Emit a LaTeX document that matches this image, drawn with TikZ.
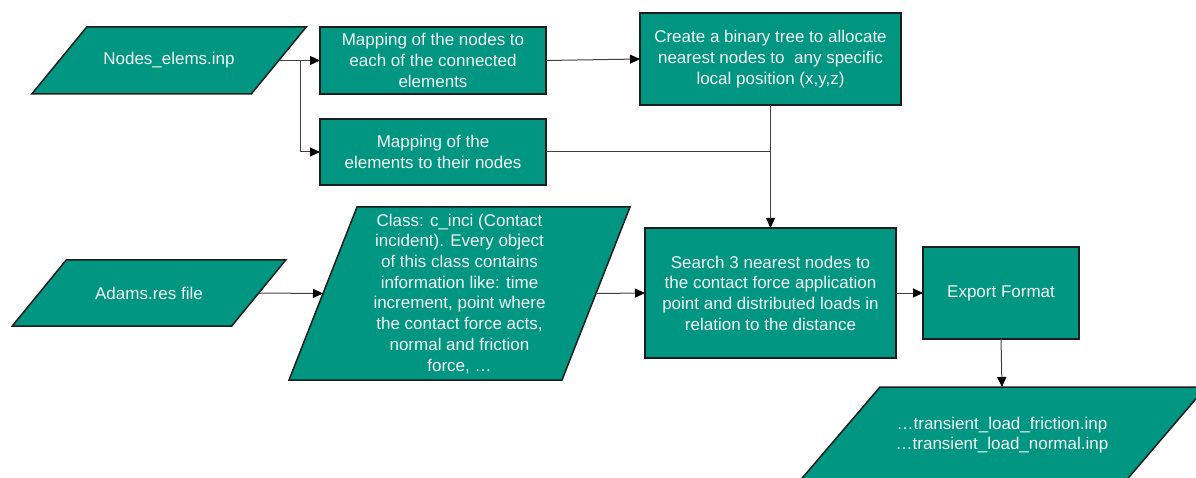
\documentclass[tikz,border=0pt]{standalone}
\usepackage{fontspec}
\setmainfont{Liberation Sans}
\usetikzlibrary{arrows.meta,backgrounds,calc}
\definecolor{tealfill}{RGB}{0,150,130}
\definecolor{edgecol}{RGB}{30,30,30}
\definecolor{wirecol}{RGB}{64,64,64}
\definecolor{txtcol}{RGB}{245,245,245}
\tikzset{
  lbl/.style={align=center, text=txtcol, font=\fontsize{17}{20.7}\selectfont, inner sep=0pt, outer sep=0pt},
  procbox/.style={lbl, draw=edgecol, line width=1.5pt, fill=tealfill},
  ioshape/.style={draw=edgecol, line width=1.5pt, fill=tealfill, line join=miter},
  wire/.style={draw=wirecol, line width=1pt},
  conn/.style={wire, -{Triangle[length=10pt,width=9pt,color=black]}},
}
\newcommand\ioframe[2]{%
  \begin{pgfonlayer}{background}
    \draw[ioshape] ([xshift=#2/2]#1.north west) -- ([xshift=#2/2]#1.north east)
      -- ([xshift=-#2/2]#1.south east) -- ([xshift=-#2/2]#1.south west) -- cycle;
  \end{pgfonlayer}}
\begin{document}
\begin{tikzpicture}[x=1pt,y=-1pt]
\useasboundingbox (0,0) rectangle (1196,478);
\clip (0,0) rectangle (1196,478);

% input / output shapes (parallelograms)
\node[lbl, minimum width=219.5pt, minimum height=67pt] (ne) at (169,60.5) {Nodes\_elems.inp};
\ioframe{ne}{55}
\node[lbl, minimum width=219.5pt, minimum height=66pt] (adams) at (149,293) {Adams.res file};
\ioframe{adams}{54}
\node[lbl, minimum width=273pt, minimum height=173pt] (cls) at (459.5,293.5) {Class: c\_inci (Contact\\incident). Every object\\of this class contains\\information like: time\\increment, point where\\the contact force acts,\\normal and friction\\force, …};
\ioframe{cls}{68}
\node[lbl, minimum width=326pt, minimum height=96pt] (out) at (1002,435) {…transient\_load\_friction.inp\\…transient\_load\_normal.inp};
\ioframe{out}{82}

% process boxes
\node[procbox, minimum width=226pt, minimum height=67pt] (m1) at (433,60.5) {Mapping of the nodes to\\each of the connected\\elements};
\node[procbox, minimum width=226pt, minimum height=66pt] (m2) at (433,152) {Mapping of the\\elements to their nodes};
\node[procbox, minimum width=261pt, minimum height=92pt] (tree) at (770.5,59) {Create a binary tree to allocate\\nearest nodes to\ \ any specific\\local position (x,y,z)};
\node[procbox, minimum width=251pt, minimum height=130pt] (search) at (770.5,293) {Search 3 nearest nodes to\\the contact force application\\point and distributed loads in\\relation to the distance};
\node[procbox, minimum width=156pt, minimum height=92pt] (export) at (1001,293) {Export Format};

% connectors
\coordinate (br) at (300,60.5);
\draw[conn] (ne.east) -- (m1.west);
\draw[wire] (br) -- (br |- m2.west);
\draw[conn] (br |- m2.west) -- (m2.west);
\draw[conn] (m1.east) -- (tree.west);
\draw[wire] (m2.east) -- (m2.east -| tree.south);
\draw[conn] (tree.south) -- (search.north);
\draw[conn] (adams.east) -- (cls.west);
\draw[conn] (cls.east) -- (search.west);
\draw[conn] (search.east) -- (export.west);
\draw[conn] (export.south) -- (out.north);
\end{tikzpicture}
\end{document}
